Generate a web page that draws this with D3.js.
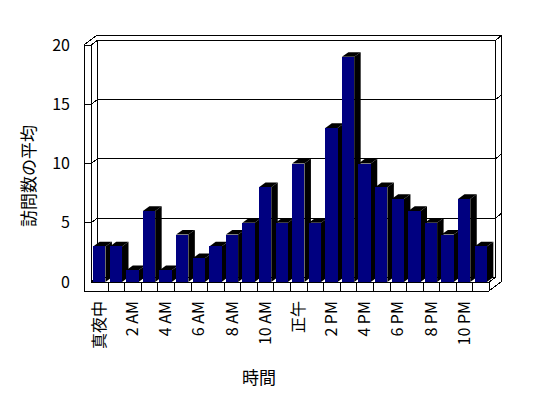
<!DOCTYPE html>
<html lang="ja">
<head>
<meta charset="utf-8">
<title>訪問数の平均</title>
<script src="https://cdnjs.cloudflare.com/ajax/libs/d3/7.8.5/d3.min.js"></script>
<style>
body { margin: 0; background: #fff; }
svg text { font-family: "Noto Sans CJK JP", "Noto Sans", sans-serif; fill: #000; }
.edge { fill: none; stroke: #000; stroke-width: 1; shape-rendering: crispEdges; }
</style>
</head>
<body>
<script>
var categories = ["真夜中", "1 AM", "2 AM", "3 AM", "4 AM", "5 AM", "6 AM", "7 AM", "8 AM", "9 AM", "10 AM", "11 AM",
                  "正午", "1 PM", "2 PM", "3 PM", "4 PM", "5 PM", "6 PM", "7 PM", "8 PM", "9 PM", "10 PM", "11 PM"];
var visits = [3, 3, 1, 6, 1, 4, 2, 3, 4, 5, 8, 5, 10, 5, 13, 19, 10, 8, 7, 6, 5, 4, 7, 3];
var yTicks = [0, 5, 10, 15, 20];
var yTitle = "訪問数の平均";
var xTitle = "時間";

var w = 548, h = 398;

var svg = d3.select("body").append("svg")
    .attr("width", w)
    .attr("height", h);

var x = d3.scaleBand()
    .domain(categories)
    .range([91, 489])
    .paddingInner(0.26)
    .paddingOuter(0.13);

var y = d3.scaleLinear()
    .domain([0, 20])
    .range([282, 45]);

// oblique depth: plot depth and back wall thickness
var dz = [6.5, -4.7];
var dw = [6.1, -4.8];
var wallLeft = 84;     // outer edge of left wall
var floorBottom = 291; // bottom of floor slab
var x0 = x.range()[0], x1 = x.range()[1];
var yTop = y(20), yZero = y(0);

var line = d3.line();
var g = svg.append("g");

function edge(pts) {
  g.append("path").attr("class", "edge").attr("d", line(pts));
}

// walls and floor outline
edge([[wallLeft, yTop], [wallLeft, floorBottom], [x1, floorBottom]]);
edge([[wallLeft, yTop], [x0, yTop], [x0, yZero]]);
edge([[wallLeft, yTop], [wallLeft + dz[0] + dw[0], yTop + dz[1] + dw[1]],
      [x1 + dz[0] + dw[0], yTop + dz[1] + dw[1]],
      [x1 + dz[0] + dw[0], floorBottom + dz[1] + dw[1]], [x1, floorBottom]]);
edge([[x0, yTop], [x0 + dz[0], yTop + dz[1]], [x1 + dz[0], yTop + dz[1]],
      [x1 + dz[0] + dw[0], yTop + dz[1] + dw[1]]]);
edge([[x0 + dz[0], yTop + dz[1]], [x0 + dz[0], yZero + dz[1]]]);
edge([[x1 + dz[0], yTop + dz[1]], [x1 + dz[0], yZero + dz[1]]]);
edge([[x0, yZero], [x0 + dz[0], yZero + dz[1]], [x1 + dz[0], yZero + dz[1]], [x1, yZero]]);

// gridlines wrapped over the walls
yTicks.filter(function(v) { return v > 0 && v < 20; }).forEach(function(v) {
  var yf = y(v);
  edge([[wallLeft, yf], [x0, yf], [x0 + dz[0], yf + dz[1]], [x1 + dz[0], yf + dz[1]],
        [x1 + dz[0] + dw[0], yf + dz[1] + dw[1]]]);
});

// bars
var bw = x.bandwidth();
var bars = svg.append("g").selectAll("g")
    .data(visits)
    .enter()
    .append("g");

bars.append("path")
    .attr("fill", "#000")
    .attr("d", function(d, i) {
      var bx = x(categories[i]) + bw, t = y(d);
      return line([[bx, t], [bx + dz[0], t + dz[1]], [bx + dz[0], yZero + dz[1]], [bx, yZero]]) + "Z";
    });

bars.append("path")
    .attr("fill", "#000")
    .attr("d", function(d, i) {
      var bx = x(categories[i]), t = y(d);
      return line([[bx, t], [bx + dz[0], t + dz[1]], [bx + bw + dz[0], t + dz[1]], [bx + bw, t]]) + "Z";
    });

bars.append("rect")
    .attr("fill", "#000080")
    .attr("shape-rendering", "crispEdges")
    .attr("x", function(d, i) { return x(categories[i]); })
    .attr("y", function(d) { return y(d); })
    .attr("width", bw)
    .attr("height", function(d) { return yZero - y(d); });

// floor front face with category dividers
var g2 = svg.append("g");
g2.append("path").attr("class", "edge").attr("d", line([[x0, yZero], [x1, yZero], [x1, floorBottom]]));
var half = x.step() * x.paddingInner() / 2;
g2.selectAll("line")
    .data(categories.slice(1))
    .enter()
    .append("line")
    .attr("class", "edge")
    .attr("x1", function(d) { return Math.round(x(d) - half) + 0.5; })
    .attr("x2", function(d) { return Math.round(x(d) - half) + 0.5; })
    .attr("y1", yZero)
    .attr("y2", floorBottom);

// y axis labels
var yAxis = svg.append("g")
    .attr("transform", "translate(" + wallLeft + ",0)")
    .call(d3.axisLeft(y).tickValues(yTicks).tickSize(0).tickPadding(14));
yAxis.select(".domain").remove();
yAxis.selectAll("text")
    .attr("font-size", 16)
    .style("font-family", '"Noto Sans CJK JP", sans-serif');

// x labels, every second hour
svg.append("g").selectAll("text")
    .data(categories.filter(function(d, i) { return i % 2 === 0; }))
    .enter()
    .append("text")
    .attr("font-size", 16)
    .attr("text-anchor", "end")
    .attr("dy", "0.35em")
    .attr("transform", function(d) {
      return "translate(" + (x(d) + bw / 2) + ",301) rotate(-90)";
    })
    .text(function(d) { return d; });

// titles
svg.append("text")
    .attr("font-size", 17)
    .attr("text-anchor", "middle")
    .attr("dy", "0.35em")
    .attr("transform", "translate(29,176) rotate(-90)")
    .text(yTitle);

svg.append("text")
    .attr("font-size", 17)
    .attr("text-anchor", "middle")
    .attr("dy", "0.35em")
    .attr("x", 259)
    .attr("y", 378)
    .text(xTitle);
</script>
</body>
</html>
